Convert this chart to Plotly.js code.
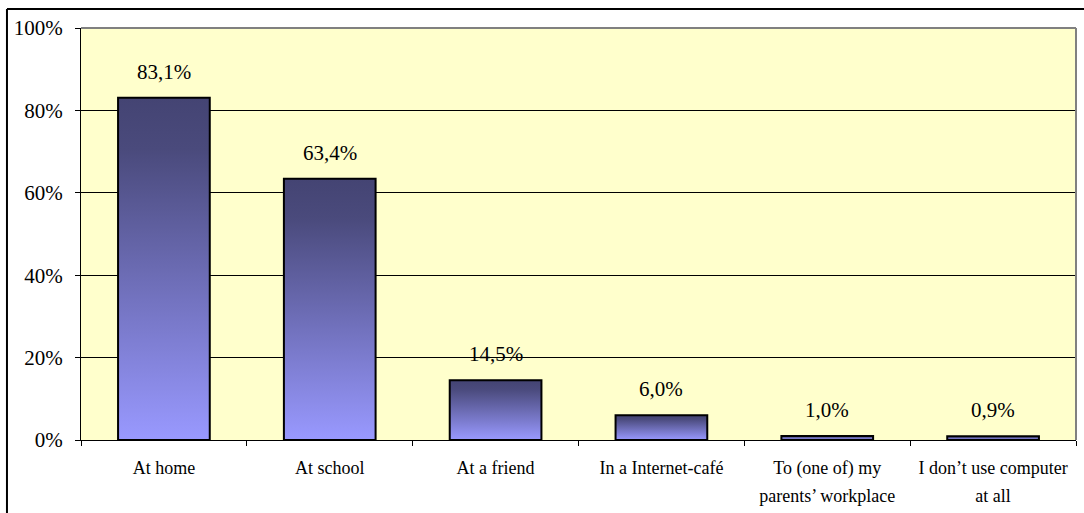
<!DOCTYPE html>
<html>
<head>
<meta charset="utf-8">
<script src="https://cdn.plot.ly/plotly-3.0.1.min.js"></script>
<style>
  html, body { margin: 0; padding: 0; background: #fff; }
  #chart { width: 1084px; height: 513px; }
</style>
</head>
<body>
<div id="chart"></div>
<script>
const categories = [
  'At home',
  'At school',
  'At a friend',
  'In a Internet-café',
  'To (one of) my<br>parents’ workplace',
  'I don’t use computer<br>at all'
];
const values = [83.1, 63.4, 14.5, 6.0, 1.0, 0.9];
const yTickVals = [0, 20, 40, 60, 80, 100];

const fmt = v => v.toFixed(1).replace('.', ',') + '%';
const FONT = 'Liberation Serif';

const trace = {
  type: 'bar',
  x: categories,
  y: values,
  marker: { color: '#7777CC', line: { color: '#000000', width: 2 } },
  hoverinfo: 'skip'
};

const annotations = categories.map((c, i) => ({
  x: c, y: values[i], xref: 'x', yref: 'y',
  text: fmt(values[i]), showarrow: false,
  yanchor: 'middle', yshift: 26,
  font: { family: FONT, size: 21, color: '#000' }
}));

const layout = {
  width: 1084, height: 513,
  margin: { l: 81, r: 8, t: 28, b: 73, pad: 0 },
  paper_bgcolor: '#FFFFFF',
  plot_bgcolor: '#FFFFCC',
  showlegend: false,
  bargap: 0.447,
  font: { family: FONT, color: '#000' },
  xaxis: {
    type: 'category',
    showline: true, linecolor: '#000', linewidth: 1,
    ticks: 'outside', ticklen: 5, tickcolor: '#000', tickwidth: 1,
    tickson: 'boundaries',
    showgrid: false, zeroline: false,
    tickfont: { family: FONT, size: 18, color: '#000' },
    ticklabelstandoff: 11
  },
  yaxis: {
    range: [0, 100],
    tickvals: yTickVals,
    ticktext: yTickVals.map(v => v + '%'),
    showline: true, linecolor: '#000', linewidth: 1,
    ticks: 'outside', ticklen: 5, tickcolor: '#000', tickwidth: 1,
    showgrid: true, gridcolor: '#000', gridwidth: 1,
    zeroline: false,
    tickfont: { family: FONT, size: 21, color: '#000' },
    ticklabelstandoff: 8
  },
  annotations: annotations,
  shapes: [
    { type: 'line', xref: 'paper', yref: 'paper', x0: 0, x1: 1, y0: 1, y1: 1,
      line: { color: '#808080', width: 2 }, layer: 'above' },
    { type: 'line', xref: 'paper', yref: 'paper', x0: 1, x1: 1, y0: 0, y1: 1,
      line: { color: '#808080', width: 2 }, layer: 'above' },
    { type: 'line', xref: 'paper', yref: 'paper', x0: -0.0744, x1: -0.0744, y0: -0.4, y1: 1.0461,
      line: { color: '#000', width: 2 }, layer: 'above' },
    { type: 'line', xref: 'paper', yref: 'paper', x0: -0.0744, x1: 1.1, y0: 1.0461, y1: 1.0461,
      line: { color: '#000', width: 2 }, layer: 'above' }
  ]
};

Plotly.newPlot('chart', [trace], layout, { staticPlot: true, displayModeBar: false }).then(gd => {
  const svg = gd.querySelector('svg.main-svg');
  const ns = 'http://www.w3.org/2000/svg';
  const defs = document.createElementNS(ns, 'defs');
  const grad = document.createElementNS(ns, 'linearGradient');
  grad.setAttribute('id', 'barGrad');
  grad.setAttribute('x1', '0'); grad.setAttribute('y1', '0');
  grad.setAttribute('x2', '0'); grad.setAttribute('y2', '1');
  [['0', '#444473'], ['0.15', '#4A4A7C'], ['1', '#9999FF']].forEach(([o, c]) => {
    const s = document.createElementNS(ns, 'stop');
    s.setAttribute('offset', o); s.setAttribute('stop-color', c);
    grad.appendChild(s);
  });
  defs.appendChild(grad);
  svg.insertBefore(defs, svg.firstChild);
  gd.querySelectorAll('.barlayer .point path').forEach(p => {
    p.style.fill = 'url(#barGrad)';
  });
  gd.querySelectorAll('.xtick text').forEach(t => {
    const lines = t.querySelectorAll('tspan.line');
    lines.forEach((ln, k) => { if (k > 0) ln.setAttribute('dy', '1.55em'); });
  });
});
</script>
</body>
</html>
